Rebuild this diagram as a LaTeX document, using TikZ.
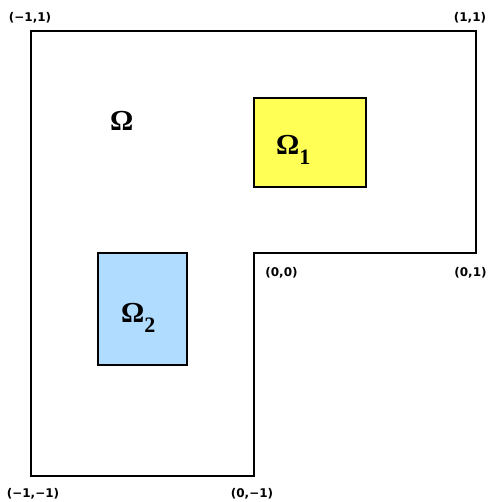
\documentclass[tikz,border=0pt]{standalone}
\usepackage{fontspec}
\setmainfont{Liberation Serif}
\newfontfamily\coordfont{DejaVu Sans}
\definecolor{omyellow}{RGB}{255,255,85}
\definecolor{omblue}{RGB}{176,220,255}
\newcommand{\omsub}[1]{Ω\raisebox{-10pt}{\fontsize{22}{24}\selectfont #1}}
\begin{document}
\begin{tikzpicture}[x=1pt,y=-1pt,
  coordlbl/.style={font=\coordfont\bfseries\fontsize{12}{14}\selectfont, inner sep=0pt},
  omlbl/.style={font=\bfseries\fontsize{29}{32}\selectfont, inner sep=0pt, anchor=base west},
  edge/.style={line width=1.3pt, black}]
\useasboundingbox (0,0) rectangle (487,502);
% L-shaped domain
\coordinate (A) at (31,31);
\coordinate (B) at (476,31);
\coordinate (C) at (476,253);
\coordinate (D) at (254,253);
\coordinate (E) at (254,476);
\coordinate (F) at (31,476);
\draw[edge] (A) -- (B) -- (C) -- (D) -- (E) -- (F) -- cycle;
% subdomains
\draw[edge, fill=omyellow] (254,98) rectangle (366,187);
\draw[edge, fill=omblue] (98,253) rectangle (187,365);
% labels
\node[omlbl] (om) at (110,131) {Ω};
\node[omlbl] (om1) at (276,155) {\omsub{1}};
\node[omlbl] (om2) at (121,322) {\omsub{2}};
\node[coordlbl] (l1) at (30,17.5) {(−1,1)};
\node[coordlbl] (l2) at (470,17.5) {(1,1)};
\node[coordlbl] (l3) at (281.5,273) {(0,0)};
\node[coordlbl] (l4) at (470.5,273) {(0,1)};
\node[coordlbl] (l5) at (33,494) {(−1,−1)};
\node[coordlbl] (l6) at (252,494) {(0,−1)};
\end{tikzpicture}
\end{document}
